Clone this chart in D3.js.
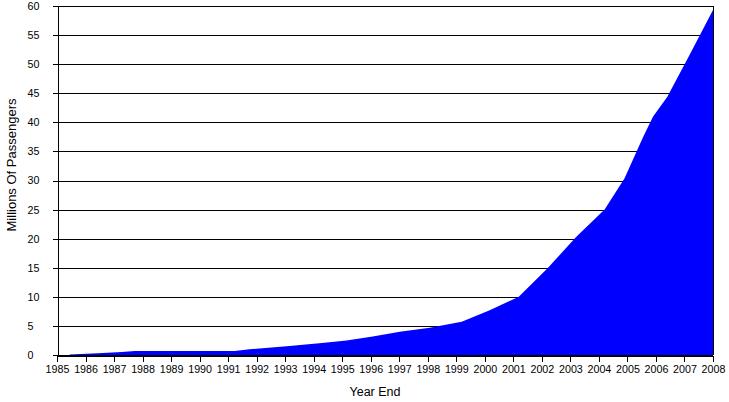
<!DOCTYPE html>
<html>
<head>
<meta charset="utf-8">
<script src="https://cdn.jsdelivr.net/npm/d3@7"></script>
<style>
  body { margin: 0; background: #fff; }
  svg { display: block; font-family: Arial, "Liberation Sans", sans-serif; }
  .axis path, .axis line { stroke: #000; shape-rendering: crispEdges; }
  .axis text { fill: #000; font-size: 10.7px; }
  .grid line { stroke: #000; shape-rendering: crispEdges; }
</style>
</head>
<body>
<div class="chart-container"></div>
<script>
// year positions of the data points (fractional years)
const years = [1985.45, 1986.43, 1987.27, 1987.73, 1991.23, 1991.75, 1992.1, 1993.05,
  1994.2, 1995.15, 1996.07, 1997.02, 1998.07, 1999.19, 2000.17, 2001.19, 2002.2,
  2003.2, 2004.2, 2004.9, 2005.55, 2005.9, 2006.4, 2007.2, 2008]
// millions of passengers
const passengers = [0.1, 0.3, 0.5, 0.7, 0.7, 1.0, 1.1, 1.5,
  2.0, 2.5, 3.2, 4.0, 4.7, 5.7, 7.7, 10.0, 14.9,
  20.3, 25.0, 30.4, 37.5, 41.0, 44.4, 51.8, 59.3]
const yearTicks = d3.range(1985, 2009)
const valueTicks = d3.range(0, 61, 5)

const width = 729
const height = 402
const margin = { top: 6, right: 16, bottom: 47, left: 57 }

const data = years.map((yr, i) => ({ year: yr, value: passengers[i] }))

const x = d3.scaleLinear()
  .domain([1985, 2008])
  .range([margin.left, width - margin.right])

const y = d3.scaleLinear()
  .domain([0, 60])
  .range([height - margin.bottom, margin.top])

const svg = d3.select('.chart-container')
  .append('svg')
  .attr('width', width)
  .attr('height', height)

// horizontal gridlines
svg.append('g')
  .attr('class', 'grid')
  .selectAll('line')
  .data(valueTicks)
  .enter()
  .append('line')
  .attr('x1', margin.left)
  .attr('x2', width - margin.right)
  .attr('y1', (d) => Math.round(y(d)) + 0.5)
  .attr('y2', (d) => Math.round(y(d)) + 0.5)

// the area itself
const area = d3.area()
  .x((d) => x(d.year))
  .y0(y(0))
  .y1((d) => y(d.value))

svg.append('path')
  .datum(data)
  .attr('fill', '#0000ff')
  .attr('d', area)

// right border of plot area
svg.append('line')
  .attr('x1', Math.round(x(2008)) + 0.5)
  .attr('x2', Math.round(x(2008)) + 0.5)
  .attr('y1', y(60))
  .attr('y2', y(0))
  .attr('stroke', '#000')
  .attr('shape-rendering', 'crispEdges')

// y axis, labels left aligned like the original
const yAxis = svg.append('g')
  .attr('class', 'axis')
  .attr('transform', `translate(${margin.left + 0.5},0)`)
  .call(d3.axisLeft(y).tickValues(valueTicks).tickSize(5).tickSizeOuter(0))

yAxis.selectAll('text')
  .attr('text-anchor', 'start')
  .attr('x', 27 - margin.left)

// x axis
svg.append('g')
  .attr('class', 'axis')
  .attr('transform', `translate(0,${Math.round(y(0)) + 0.5})`)
  .call(d3.axisBottom(x).tickValues(yearTicks).tickFormat(d3.format('d')).tickSize(6).tickSizeOuter(0).tickPadding(4))

// axis titles
svg.append('text')
  .attr('x', 375)
  .attr('y', 396)
  .attr('text-anchor', 'middle')
  .attr('font-size', '12.5px')
  .text('Year End')

svg.append('text')
  .attr('transform', 'translate(16,165) rotate(-90)')
  .attr('text-anchor', 'middle')
  .attr('font-size', '13px')
  .text('Millions Of Passengers')
</script>
</body>
</html>
